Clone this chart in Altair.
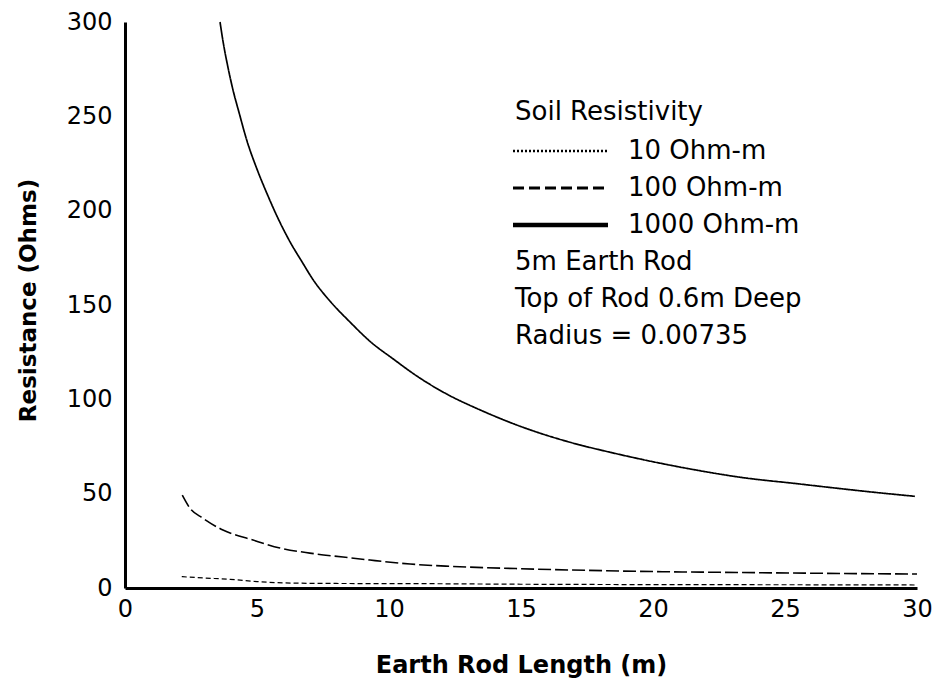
import altair as alt
import pandas as pd

# --- data ---
x_1000 = [3.6, 3.71, 3.9, 4.09, 4.32, 4.62, 5.0, 5.38, 5.76, 6.25, 6.7, 7.12,
          7.8, 8.52, 9.3, 10.15, 11.06, 12.2, 13.45, 15.07, 16.74, 18.48,
          20.15, 22.05, 23.3, 25.45, 27.08, 28.33, 29.92]
y_1000 = [300, 290, 276, 264, 252, 237, 222, 209, 197, 183.5, 173, 163.5,
          151.5, 141, 130.5, 121.5, 112.3, 102.7, 94.4, 85.2, 77.7, 71.6,
          66.5, 61.5, 58.7, 55.3, 52.7, 50.8, 48.6]

x_100 = [2.17, 2.46, 2.95, 3.71, 4.85, 5.87, 7.0, 8.26, 9.28, 10.8, 12.3,
         14.8, 18.75, 24.05, 30.0]
y_100 = [49.2, 42.3, 37.0, 30.7, 25.4, 21.2, 18.5, 16.4, 14.8, 12.7, 11.5,
         10.3, 9.0, 8.1, 7.4]

x_10 = [2.15, 3.0, 3.98, 5.0, 6.36, 8.0, 11.2, 15.0, 20.0, 26.2, 30.0]
y_10 = [6.0, 5.3, 4.6, 3.4, 2.6, 2.4, 2.3, 2.0, 1.8, 1.7, 1.6]

legend_title = "Soil Resistivity"
series_labels = ["10 Ohm-m", "100 Ohm-m", "1000 Ohm-m"]
notes = ["5m  Earth Rod", "Top of Rod 0.6m Deep", "Radius = 0.00735"]

x_ticks = [0, 5, 10, 15, 20, 25, 30]
y_ticks = [0, 50, 100, 150, 200, 250, 300]

FONT = "DejaVu Sans"
ox, oy = 125, 22
W, H = 792, 566

xs = alt.Scale(domain=[0, 30], nice=False, zero=True)
ys = alt.Scale(domain=[0, 300], nice=False)

x_axis = alt.Axis(values=x_ticks, title="Earth Rod Length (m)", grid=False,
                  ticks=False, tickSize=0, domainWidth=3, domainColor="black",
                  labelFont=FONT, labelFontSize=24, labelColor="black",
                  labelFlush=False, labelPadding=9, titleFont=FONT,
                  titleFontSize=24, titleFontWeight="bold", titleColor="black",
                  titleX=W / 2, titleY=77, titleBaseline="middle",
                  titleAlign="center")
y_axis = alt.Axis(values=y_ticks, title="Resistance (Ohms)", grid=False,
                  ticks=False, tickSize=0, domainWidth=3, domainColor="black",
                  labelFont=FONT, labelFontSize=24, labelColor="black",
                  labelFlush=False, labelPadding=13, titleFont=FONT,
                  titleFontSize=23, titleFontWeight="bold", titleColor="black",
                  titleX=-97, titleY=300 - oy, titleAngle=-90,
                  titleBaseline="middle", titleAlign="center")

def curve(xv, yv, dash, width, axes=False):
    df = pd.DataFrame({"L": xv, "R": yv})
    ch = alt.Chart(df).mark_line(color="black", strokeWidth=width,
                                 strokeDash=dash, interpolate="monotone")
    if axes:
        return ch.encode(x=alt.X("L:Q", scale=xs, axis=x_axis),
                         y=alt.Y("R:Q", scale=ys, axis=y_axis))
    return ch.encode(x=alt.X("L:Q", scale=xs), y=alt.Y("R:Q", scale=ys))

c1000 = curve(x_1000, y_1000, [1, 0], 1.7, axes=True)
c100 = curve(x_100, y_100, [13, 4], 1.6)
c10 = curve(x_10, y_10, [5, 3], 1.2)

one = pd.DataFrame({"a": [0]})

def txt(s, px, py, size=26):
    return alt.Chart(one).mark_text(text=s, font=FONT, fontSize=size,
                                    align="left", baseline="middle",
                                    color="black").encode(
        x=alt.value(px), y=alt.value(py))

def leg_line(py, dash, width):
    return alt.Chart(one).mark_rule(color="black", strokeWidth=width,
                                    strokeDash=dash).encode(
        x=alt.value(388), x2=alt.value(483), y=alt.value(py))

layers = [c1000, c100, c10,
          txt(legend_title, 515 - ox, 112 - oy),
          leg_line(151 - oy, [2, 2], 2.5),
          leg_line(188 - oy, [11, 5], 3),
          leg_line(225 - oy, [1, 0], 4.5),
          txt(series_labels[0], 628 - ox, 151 - oy),
          txt(series_labels[1], 628 - ox, 188 - oy),
          txt(series_labels[2], 628 - ox, 225 - oy),
          txt(notes[0], 515 - ox, 262 - oy),
          txt(notes[1], 515 - ox, 299 - oy),
          txt(notes[2], 515 - ox, 336 - oy)]

chart = alt.layer(*layers).properties(
    width=W, height=H,
    autosize=alt.AutoSizeParams(type="none"),
    padding={"left": ox - 8, "top": oy - 8, "right": 15, "bottom": 90},
    background="white",
).configure_view(stroke=None)

chart.save("out.html", embed_options={"renderer": "svg", "actions": False})
